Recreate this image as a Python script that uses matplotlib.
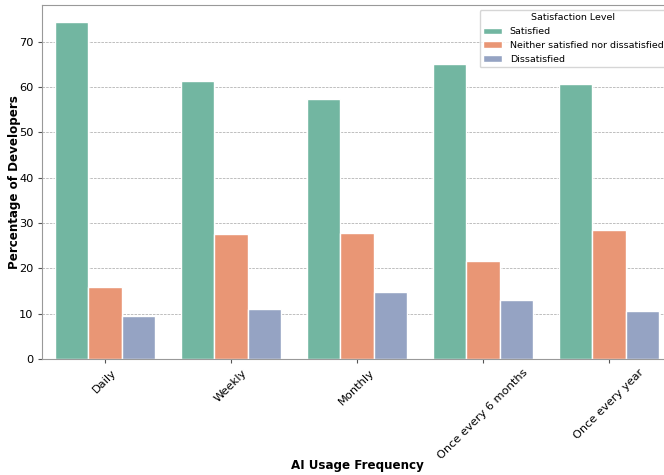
import numpy as np
import pandas as pd
import matplotlib
matplotlib.use("Agg")
import matplotlib.pyplot as plt
import seaborn as sns

frequency = ["Daily", "Weekly", "Monthly", "Once every 6 months", "Once every year"]
levels = ["Satisfied", "Neither satisfied nor dissatisfied", "Dissatisfied"]
satisfied = [74.4, 61.4, 57.4, 65.1, 60.7]
neither = [15.9, 27.6, 27.8, 21.6, 28.5]
dissatisfied = [9.5, 11.0, 14.8, 13.0, 10.6]

rows = []
for lvl, vals in zip(levels, [satisfied, neither, dissatisfied]):
    for f, v in zip(frequency, vals):
        rows.append({"AI Usage Frequency": f, "Satisfaction Level": lvl, "Percentage": v})
df = pd.DataFrame(rows)

sns.set_style("white")
plt.rcParams['font.family'] = ['DejaVu Sans']
plt.rcParams['text.color'] = 'black'
plt.rcParams['axes.labelcolor'] = 'black'
plt.rcParams['xtick.color'] = 'black'
plt.rcParams['ytick.color'] = 'black'

fig = plt.figure(figsize=(6.64, 4.75), dpi=100)
ax = fig.add_axes([42 / 664, 116 / 475, 630 / 664, 354 / 475])

sns.barplot(data=df, x="AI Usage Frequency", y="Percentage", hue="Satisfaction Level",
            order=frequency, hue_order=levels, palette="Set2", ax=ax)

ax.set_axisbelow(True)
ax.yaxis.grid(True, linestyle='--', linewidth=0.5, color='gray', alpha=0.7)
for s in ax.spines.values():
    s.set_color('#999999')
ax.tick_params(axis='both', which='both', bottom=True, left=True, length=3,
               width=0.8, color='#555555', labelsize=8.2, pad=3)
plt.setp(ax.get_xticklabels(), rotation=45)

ax.set_xlabel("AI Usage Frequency", fontsize=8.6, fontweight='bold')
ax.xaxis.set_label_coords(0.5, -0.283)
ax.set_ylabel("Percentage of Developers", fontsize=8.6, fontweight='bold')
ax.yaxis.set_label_coords(-0.034, 0.5)

ax.legend(title="Satisfaction Level", loc="upper right", fontsize=6.8, title_fontsize=6.8)

fig.savefig("out.png", dpi=100)
